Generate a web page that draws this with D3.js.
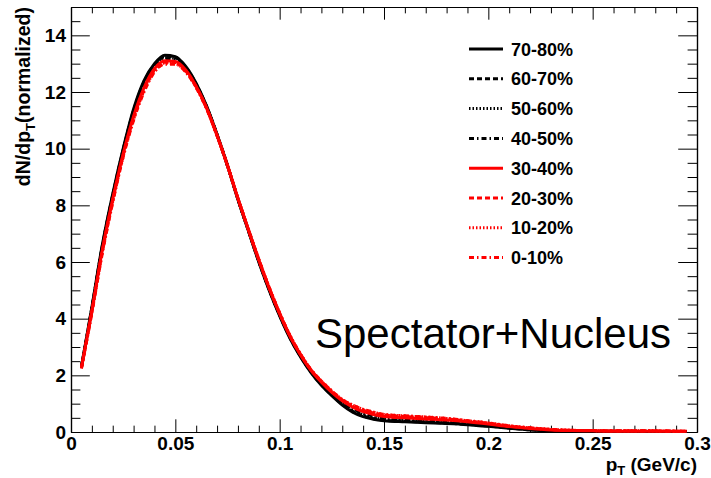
<!DOCTYPE html>
<html>
<head>
<meta charset="utf-8">
<script src="https://cdn.jsdelivr.net/npm/d3@7"></script>
<style>
  html, body { margin: 0; padding: 0; background: #fff; }
  svg text { font-family: "Liberation Sans", Arial, Helvetica, sans-serif; }
</style>
</head>
<body>
<div id="chart"></div>
<script>
// pT bin centres (GeV/c)
const pt = [0.005, 0.01, 0.015, 0.02, 0.025, 0.03, 0.035, 0.04, 0.045, 0.05,
            0.055, 0.06, 0.065, 0.07, 0.075, 0.08, 0.085, 0.09, 0.095, 0.1,
            0.105, 0.11, 0.115, 0.12, 0.125, 0.13, 0.135, 0.14, 0.145, 0.15,
            0.16, 0.17, 0.18, 0.19, 0.2, 0.21, 0.22, 0.23, 0.24, 0.25,
            0.26, 0.27, 0.28, 0.29, 0.295];

const categories = ["70-80%", "60-70%", "50-60%", "40-50%", "30-40%", "20-30%", "10-20%", "0-10%"];

const c7080 = [2.30, 4.40, 6.60, 8.40, 10.0, 11.4, 12.4, 13.0, 13.3, 13.25,
               12.9, 12.3, 11.5, 10.5, 9.40, 8.20, 7.10, 6.00, 5.00, 4.10,
               3.30, 2.65, 2.10, 1.65, 1.28, 0.95, 0.70, 0.54, 0.45, 0.40,
               0.36, 0.33, 0.30, 0.26, 0.20, 0.13, 0.07, 0.04, 0.03, 0.02,
               0.02, 0.02, 0.02, 0.02, 0.02];
const c6070 = [2.30, 4.38, 6.56, 8.36, 9.96, 11.35, 12.36, 12.96, 13.26, 13.22,
               12.88, 12.28, 11.48, 10.5, 9.40, 8.21, 7.11, 6.02, 5.02, 4.12,
               3.32, 2.67, 2.12, 1.67, 1.30, 0.98, 0.73, 0.57, 0.47, 0.42,
               0.38, 0.35, 0.31, 0.27, 0.21, 0.14, 0.08, 0.05, 0.03, 0.02,
               0.02, 0.02, 0.02, 0.02, 0.02];
const c5060 = [2.29, 4.35, 6.52, 8.32, 9.92, 11.3, 12.3, 12.92, 13.22, 13.18,
               12.85, 12.26, 11.47, 10.49, 9.40, 8.22, 7.12, 6.03, 5.03, 4.13,
               3.34, 2.68, 2.14, 1.70, 1.33, 1.01, 0.77, 0.61, 0.51, 0.45,
               0.41, 0.37, 0.33, 0.29, 0.23, 0.15, 0.09, 0.05, 0.04, 0.03,
               0.02, 0.02, 0.02, 0.02, 0.02];
const c4050 = [2.28, 4.32, 6.48, 8.28, 9.88, 11.25, 12.25, 12.88, 13.18, 13.14,
               12.82, 12.24, 11.46, 10.48, 9.40, 8.23, 7.13, 6.05, 5.05, 4.15,
               3.35, 2.70, 2.16, 1.73, 1.36, 1.05, 0.82, 0.66, 0.56, 0.49,
               0.45, 0.41, 0.37, 0.32, 0.25, 0.17, 0.10, 0.06, 0.04, 0.03,
               0.03, 0.03, 0.02, 0.02, 0.02];
const c3040 = [2.27, 4.28, 6.42, 8.22, 9.82, 11.15, 12.15, 12.82, 13.10, 13.08,
               12.78, 12.2, 11.44, 10.47, 9.40, 8.24, 7.14, 6.07, 5.07, 4.17,
               3.37, 2.72, 2.18, 1.76, 1.40, 1.10, 0.88, 0.72, 0.62, 0.55,
               0.50, 0.46, 0.42, 0.36, 0.28, 0.19, 0.12, 0.07, 0.05, 0.04,
               0.03, 0.03, 0.03, 0.03, 0.03];
const c2030 = [2.26, 4.25, 6.38, 8.18, 9.76, 11.08, 12.08, 12.78, 13.05, 13.04,
               12.74, 12.18, 11.42, 10.46, 9.41, 8.25, 7.15, 6.08, 5.09, 4.19,
               3.39, 2.74, 2.19, 1.79, 1.43, 1.13, 0.92, 0.77, 0.67, 0.60,
               0.55, 0.51, 0.46, 0.39, 0.31, 0.21, 0.14, 0.09, 0.06, 0.05,
               0.04, 0.04, 0.04, 0.03, 0.03];
const c1020 = [2.25, 4.22, 6.33, 8.13, 9.72, 11.04, 12.04, 12.72, 13.02, 13.0,
               12.72, 12.16, 11.41, 10.46, 9.41, 8.25, 7.16, 6.10, 5.10, 4.20,
               3.40, 2.75, 2.20, 1.80, 1.45, 1.15, 0.95, 0.80, 0.70, 0.62,
               0.57, 0.53, 0.48, 0.40, 0.32, 0.22, 0.15, 0.09, 0.06, 0.05,
               0.04, 0.04, 0.04, 0.03, 0.03];
const c010  = [2.24, 4.20, 6.30, 8.10, 9.70, 11.0, 12.0, 12.7, 12.98, 12.98,
               12.7, 12.15, 11.4, 10.45, 9.40, 8.25, 7.15, 6.10, 5.10, 4.20,
               3.40, 2.75, 2.20, 1.80, 1.45, 1.15, 0.95, 0.80, 0.70, 0.62,
               0.57, 0.53, 0.48, 0.40, 0.32, 0.22, 0.15, 0.09, 0.06, 0.05,
               0.04, 0.04, 0.04, 0.03, 0.03];

const seriesValues = [c7080, c6070, c5060, c4050, c3040, c2030, c1020, c010];
const seriesColors = ["#000", "#000", "#000", "#000", "#ff0000", "#ff0000", "#ff0000", "#ff0000"];
const seriesDash = [null, "5,3", "1.5,2", "5,3,1.5,3", null, "5,3", "1.5,2", "5,3,1.5,3"];

const xMajor = [0, 0.05, 0.1, 0.15, 0.2, 0.25, 0.3];
const xMajorLabels = ["0", "0.05", "0.1", "0.15", "0.2", "0.25", "0.3"];
const yMajor = [0, 2, 4, 6, 8, 10, 12, 14];

const W = 711, H = 478;
const plot = { left: 71, right: 697, top: 7, bottom: 432 };

const svg = d3.select("#chart")
    .append("svg")
    .attr("width", W)
    .attr("height", H)
    .attr("viewBox", `0 0 ${W} ${H}`);

const x = d3.scaleLinear().domain([0, 0.3]).range([plot.left, plot.right]);
const y = d3.scaleLinear().domain([0, 15]).range([plot.bottom, plot.top]);

const xMinor = d3.range(0, 31).map(i => i / 100).filter(v => !xMajor.some(m => Math.abs(m - v) < 1e-9));
const yMinor = d3.range(0, 31).map(i => i / 2).filter(v => v % 2 !== 0);

const tickX = 12.7, tickY = 18.8;

function styleAxis(sel) {
    sel.selectAll("path.domain").attr("stroke", "#000").attr("stroke-width", 1.2);
    sel.selectAll(".tick line").attr("stroke", "#000").attr("stroke-width", 1);
    sel.selectAll(".tick text")
        .attr("fill", "#000")
        .style("font-size", "19px")
        .style("font-weight", "bold");
}

// bottom axis
svg.append("g")
    .attr("transform", `translate(0,${plot.bottom})`)
    .call(d3.axisBottom(x).tickValues(xMajor)
        .tickFormat((d, i) => xMajorLabels[i])
        .tickSizeInner(-tickX).tickSizeOuter(0).tickPadding(5))
    .call(styleAxis);
svg.append("g")
    .attr("transform", `translate(0,${plot.bottom})`)
    .call(d3.axisBottom(x).tickValues(xMinor).tickFormat("")
        .tickSizeInner(-tickX / 2).tickSizeOuter(0))
    .call(styleAxis);

// top axis (ticks only)
svg.append("g")
    .attr("transform", `translate(0,${plot.top})`)
    .call(d3.axisTop(x).tickValues(xMajor).tickFormat("")
        .tickSizeInner(-tickX).tickSizeOuter(0))
    .call(styleAxis);
svg.append("g")
    .attr("transform", `translate(0,${plot.top})`)
    .call(d3.axisTop(x).tickValues(xMinor).tickFormat("")
        .tickSizeInner(-tickX / 2).tickSizeOuter(0))
    .call(styleAxis);

// left axis
svg.append("g")
    .attr("transform", `translate(${plot.left},0)`)
    .call(d3.axisLeft(y).tickValues(yMajor)
        .tickSizeInner(-tickY).tickSizeOuter(0).tickPadding(5))
    .call(styleAxis);
svg.append("g")
    .attr("transform", `translate(${plot.left},0)`)
    .call(d3.axisLeft(y).tickValues(yMinor).tickFormat("")
        .tickSizeInner(-tickY / 2).tickSizeOuter(0))
    .call(styleAxis);

// right axis (ticks only)
svg.append("g")
    .attr("transform", `translate(${plot.right},0)`)
    .call(d3.axisRight(y).tickValues(yMajor).tickFormat("")
        .tickSizeInner(-tickY).tickSizeOuter(0))
    .call(styleAxis);
svg.append("g")
    .attr("transform", `translate(${plot.right},0)`)
    .call(d3.axisRight(y).tickValues(yMinor).tickFormat("")
        .tickSizeInner(-tickY / 2).tickSizeOuter(0))
    .call(styleAxis);

// curves
const line = d3.line()
    .x((d, i) => x(pt[i]))
    .y(d => y(d))
    .curve(d3.curveMonotoneX);

svg.append("g")
    .selectAll("path")
    .data(seriesValues)
    .join("path")
    .attr("d", d => line(d))
    .attr("fill", "none")
    .attr("stroke", (d, i) => seriesColors[i])
    .attr("stroke-width", 3)
    .attr("stroke-dasharray", (d, i) => seriesDash[i]);

// legend
const legend = svg.append("g");
categories.forEach((c, i) => {
    const ly = 49 + i * 29.8;
    legend.append("line")
        .attr("x1", 469).attr("x2", 503)
        .attr("y1", ly).attr("y2", ly)
        .attr("stroke", seriesColors[i])
        .attr("stroke-width", 3)
        .attr("stroke-dasharray", seriesDash[i]);
    legend.append("text")
        .attr("x", 511).attr("y", ly + 6.5)
        .style("font-size", "18px")
        .style("font-weight", "bold")
        .text(c);
});

// big label
svg.append("text")
    .attr("x", 315).attr("y", 348)
    .style("font-size", "42px")
    .text("Spectator+Nucleus");

// x title
const xt = svg.append("text")
    .attr("x", plot.right).attr("y", 471)
    .attr("text-anchor", "end")
    .style("font-size", "19px")
    .style("font-weight", "bold");
xt.append("tspan").text("p");
xt.append("tspan").attr("dy", 4).style("font-size", "13px").text("T");
xt.append("tspan").attr("dy", -4).text(" (GeV/c)");

// y title
const yt = svg.append("text")
    .attr("transform", `translate(30,${plot.top}) rotate(-90)`)
    .attr("text-anchor", "end")
    .style("font-size", "19.5px")
    .style("font-weight", "bold");
yt.append("tspan").text("dN/dp");
yt.append("tspan").attr("dy", 5).style("font-size", "13px").text("T");
yt.append("tspan").attr("dy", -5).text("(normalized)");
</script>
</body>
</html>
